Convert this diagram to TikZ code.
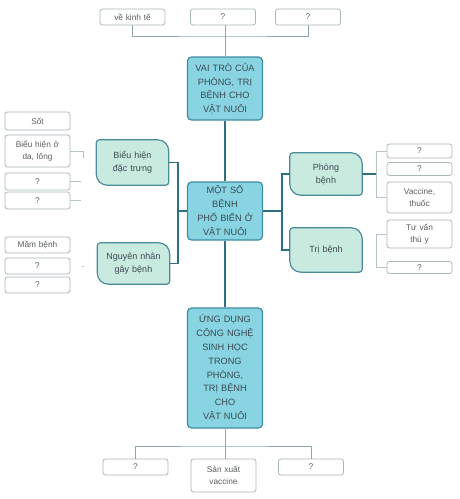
\documentclass[tikz,border=0pt]{standalone}
\usepackage{fontspec}
\setmainfont{Liberation Sans}
\usetikzlibrary{calc,backgrounds}
\definecolor{mainfill}{HTML}{88D4E2}
\definecolor{mainborder}{HTML}{3F8DA0}
\definecolor{maintext}{HTML}{3A4A52}
\definecolor{leaffill}{HTML}{C9EADF}
\definecolor{leafborder}{HTML}{4A8C9A}
\definecolor{spine}{HTML}{2E6F82}
\definecolor{branchgray}{HTML}{8FA8B0}
\definecolor{faint}{HTML}{B5C4C9}
\definecolor{smallborder}{HTML}{A9B6BA}
\definecolor{smalltext}{HTML}{5A5F62}
\tikzset{
  mainbox/.style={draw=mainborder, fill=mainfill, line width=1.2pt, rounded corners=4pt,
    minimum width=75pt, text width=73pt, align=center, inner sep=0pt,
    font=\fontsize{9.2}{13.8}\selectfont, text=maintext},
  leaftext/.style={minimum width=72pt, text width=70pt, align=center, inner sep=0pt,
    font=\fontsize{9}{13}\selectfont, text=maintext},
  leafdraw/.style={draw=leafborder, fill=leaffill, line width=1.2pt},
  smallbox/.style={draw=smallborder, fill=white, line width=0.8pt, rounded corners=2.5pt,
    minimum width=65pt, text width=63pt, align=center, inner sep=0pt,
    font=\fontsize{8.3}{12}\selectfont, text=smalltext},
  spineline/.style={draw=spine, line width=1.5pt},
  grayline/.style={draw=branchgray, line width=0.9pt},
  faintline/.style={draw=faint, line width=0.7pt}
}
\newcommand\leafbox[1]{%
  \draw[leafdraw] let \p1=(#1.south west), \p2=(#1.north east) in
    (\x1,\y1+11pt) -- (\x1,\y2-3pt) arc[start angle=180,end angle=90,radius=3pt]
    -- (\x2-11pt,\y2) arc[start angle=90,end angle=0,radius=11pt]
    -- (\x2,\y1+3pt) arc[start angle=0,end angle=-90,radius=3pt]
    -- (\x1+11pt,\y1) arc[start angle=270,end angle=180,radius=11pt] -- cycle;}
\begin{document}
\begin{tikzpicture}[x=1pt,y=-1pt]
\useasboundingbox (0,0) rectangle (459,499);

% main boxes
\node[mainbox, minimum height=63pt] (vai) at (225,88.5) {VAI TRÒ CỦA\\PHÒNG, TRỊ\\BỆNH CHO\\VẬT NUÔI};
\node[mainbox, minimum height=58pt] (mot) at (225,211) {MỘT SỐ\\BỆNH\\PHỔ BIẾN Ở\\VẬT NUÔI};
\node[mainbox, minimum height=120pt] (ung) at (225,368) {ỨNG DỤNG\\CÔNG NGHỆ\\SINH HỌC\\TRONG\\PHÒNG,\\TRỊ BỆNH\\CHO\\VẬT NUÔI};

% top small boxes
\node[smallbox, minimum height=16pt] (t1) at (132.5,17) {về kinh tế};
\node[smallbox, minimum height=16pt] (t2) at (223,17) {?};
\node[smallbox, minimum height=16pt] (t3) at (308,17) {?};

% bottom small boxes
\node[smallbox, minimum height=16pt] (b1) at (135.5,467) {?};
\node[smallbox, minimum height=33pt] (b2) at (223.5,475.5) {Sản xuất\\vaccine};
\node[smallbox, minimum height=16pt] (b3) at (311,467) {?};

% leaf boxes
\node[leaftext, minimum height=45pt] (l1) at (132.5,162.5) {Biểu hiện\\đặc trưng};
\node[leaftext, minimum height=41pt] (l2) at (133.5,263.5) {Nguyên nhân\\gây bệnh};
\node[leaftext, minimum height=42pt] (r1) at (326,174) {Phòng\\bệnh};
\node[leaftext, minimum height=44pt] (r2) at (326,250) {Trị bệnh};
\begin{scope}[on background layer]
\leafbox{l1}\leafbox{l2}\leafbox{r1}\leafbox{r2}
\end{scope}

% left small boxes
\node[smallbox, minimum height=18pt] (s1) at (37.5,121) {Sốt};
\node[smallbox, minimum height=32pt] (s2) at (37.5,151) {Biểu hiện ở\\da, lông};
\node[smallbox, minimum height=17pt] (s3) at (37.5,181.5) {?};
\node[smallbox, minimum height=17pt] (s4) at (37.5,200.5) {?};
\node[smallbox, minimum height=16pt] (m1) at (37.5,245) {Mầm bệnh};
\node[smallbox, minimum height=16pt] (m2) at (37.5,266) {?};
\node[smallbox, minimum height=16pt] (m3) at (37.5,285) {?};

% right small boxes
\node[smallbox, minimum height=14pt] (p1) at (419.5,151) {?};
\node[smallbox, minimum height=13pt] (p2) at (419.5,169) {?};
\node[smallbox, minimum height=31pt] (p3) at (419.5,197.5) {Vaccine,\\thuốc};
\node[smallbox, minimum height=28pt] (q1) at (419.5,234) {Tư vấn\\thú y};
\node[smallbox, minimum height=12pt] (q2) at (419.5,267.5) {?};

% spine
\draw[spineline] (vai.south) -- (mot.north);
\draw[spineline] (mot.south) -- (ung.north);

% top branch
\coordinate (tj) at (225,36);
\draw[grayline] (t2.south -| vai.north) -- (vai.north);
\draw[grayline] (t1.south) |- (tj) -| (t3.south);

% bottom branch
\coordinate (bj) at (225,446);
\draw[grayline] (ung.south) -- (bj);
\draw[grayline] (b1.north) |- (bj) -| (b3.north);
\draw[grayline] (bj) -- (b2.north -| bj);

% left branch
\coordinate (lj) at (178,211);
\draw[spineline] (mot.west |- lj) -- (lj);
\draw[spineline] (l1.east) -| (lj);
\draw[spineline] (lj) |- (l2.east);

% right branch
\coordinate (rj) at (282,211);
\draw[spineline] (mot.east |- rj) -- (rj);
\draw[spineline] (r1.west) -| (rj);
\draw[spineline] (rj) |- (r2.west);
\coordinate (rb) at (376,174);
\draw[spineline] (r1.east) -- (rb);

% faint brackets
\draw[faintline] (p1.west) -| (rb);
\draw[faintline] (p3.west) -| (rb);
\coordinate (qb) at (376,252);
\draw[faintline] (q1.west) -| (qb);
\draw[faintline] (q2.west) -| (qb);
\coordinate (sb) at (83,158);
\draw[faintline] (s2.east) -| (sb);
\draw[faintline] (s3.east) -- ++(11,0);
\draw[faintline] (s4.east) -- ++(11,0);
\draw[faintline] (m2.east) ++(12,0) -- ++(2,0);
\end{tikzpicture}
\end{document}
